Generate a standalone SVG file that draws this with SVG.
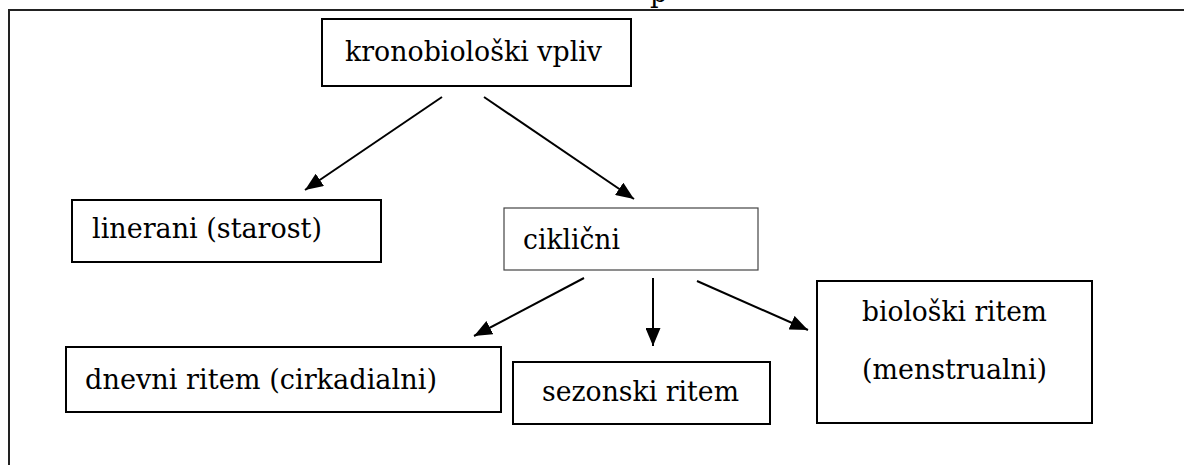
<svg xmlns="http://www.w3.org/2000/svg" width="1184" height="465" viewBox="0 0 1184 465">
<style>
.box{fill:#fff;stroke:#000;stroke-width:2}
.thin{fill:#fff;stroke:#444;stroke-width:1.2}
.t{font-family:"DejaVu Serif","Liberation Serif",serif;font-size:27px;fill:#000}
.c{stroke:#000;stroke-width:2;fill:none;marker-end:url(#ah)}
.frame{stroke:#222;stroke-width:2;fill:none}
</style>
<defs>
<marker id="ah" markerUnits="userSpaceOnUse" markerWidth="19" markerHeight="15" refX="18" refY="7.5" orient="auto">
<path d="M0,0 L18,7.5 L0,15 z" fill="#000"/>
</marker>
</defs>
<rect width="1184" height="465" fill="#fff"/>
<text class="t" x="650" y="2">p</text>
<path class="frame" d="M9,465 L9,10 L1184,10"/>
<g id="n-krono">
<rect class="box" x="322" y="19" width="309" height="67"/>
<text class="t" x="345" y="61" textLength="257" lengthAdjust="spacingAndGlyphs">kronobiološki vpliv</text>
</g>
<g id="n-linerani">
<rect class="box" x="72" y="200" width="309" height="62"/>
<text class="t" x="92" y="238" textLength="230" lengthAdjust="spacingAndGlyphs">linerani (starost)</text>
</g>
<g id="n-ciklicni">
<rect class="thin" x="504" y="208" width="254" height="62"/>
<text class="t" x="523" y="249" textLength="97" lengthAdjust="spacingAndGlyphs">ciklični</text>
</g>
<g id="n-dnevni">
<rect class="box" x="66" y="347" width="435" height="65"/>
<text class="t" x="85" y="389" textLength="352" lengthAdjust="spacingAndGlyphs">dnevni ritem (cirkadialni)</text>
</g>
<g id="n-sezonski">
<rect class="box" x="513" y="362" width="257" height="62"/>
<text class="t" x="542" y="401" textLength="197" lengthAdjust="spacingAndGlyphs">sezonski ritem</text>
</g>
<g id="n-bioloski">
<rect class="box" x="817" y="281" width="275" height="142"/>
<text class="t" x="862" y="321" textLength="185" lengthAdjust="spacingAndGlyphs">biološki ritem</text>
<text class="t" x="862" y="379" textLength="185" lengthAdjust="spacingAndGlyphs">(menstrualni)</text>
</g>
<g id="connectors">
<line class="c" x1="442" y1="97" x2="305" y2="190"/>
<line class="c" x1="484" y1="97" x2="634" y2="199"/>
<line class="c" x1="584" y1="278" x2="474" y2="336"/>
<line class="c" x1="653" y1="278" x2="653" y2="346"/>
<line class="c" x1="697" y1="281" x2="808" y2="330"/>
</g>
</svg>
